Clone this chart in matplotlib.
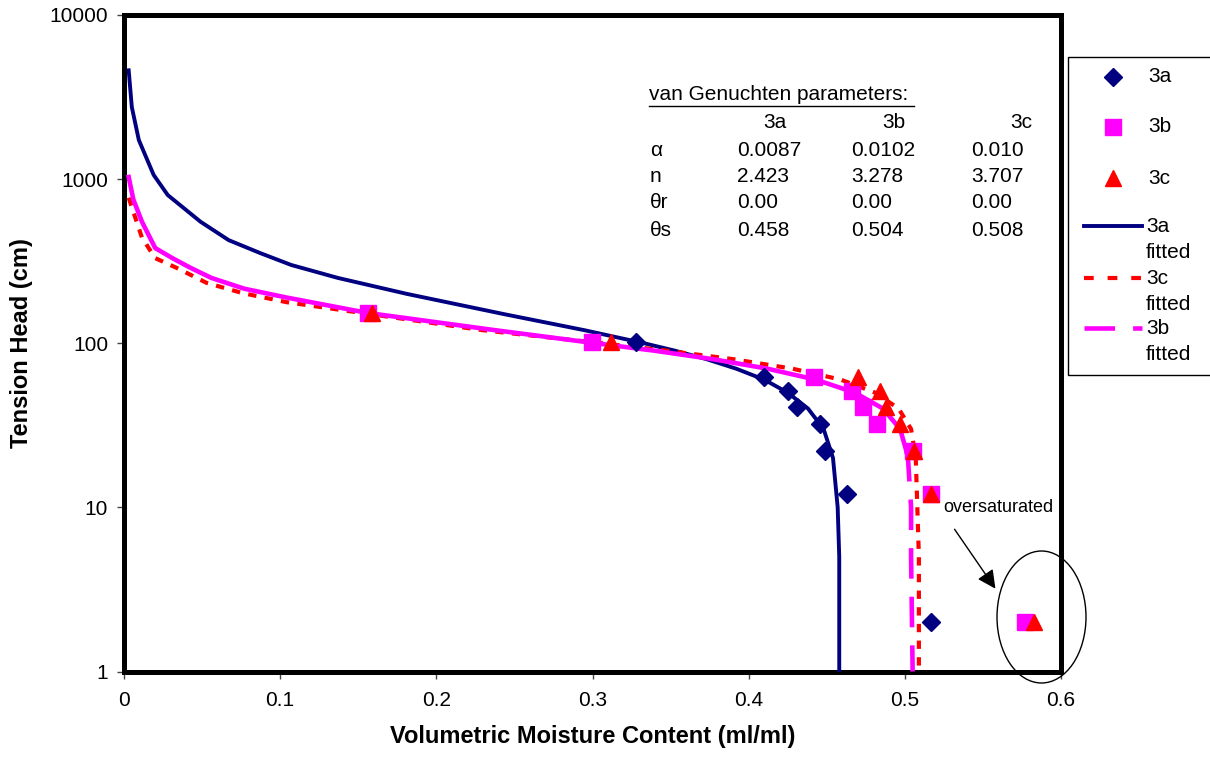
import matplotlib
matplotlib.use("Agg")
import matplotlib.pyplot as plt
from matplotlib.patches import Ellipse, Rectangle, FancyArrowPatch
from matplotlib.ticker import NullLocator

plt.rcParams["font.family"] = ["Liberation Sans", "DejaVu Sans"]
plt.rcParams["lines.scale_dashes"] = False

# measured points (tension head in cm, moisture in ml/ml)
h_3a = [102, 62, 51, 41, 32, 22, 12, 2]
theta_3a = [0.328, 0.410, 0.425, 0.431, 0.4456, 0.449, 0.463, 0.5166]
h_3bc = [153, 102, 62, 51, 41, 32, 22, 12, 2]
theta_3b = [0.156, 0.2996, 0.4417, 0.466, 0.473, 0.482, 0.505, 0.5166, 0.577]
theta_3c = [0.159, 0.312, 0.470, 0.484, 0.488, 0.497, 0.506, 0.517, 0.583]

# fitted curves
fit_a_h = [4600, 2750, 1730, 1060, 800, 550, 425, 355, 300, 250, 200, 150, 120,
           100, 90, 80, 70, 60, 50, 40, 30, 20, 10, 5, 1]
fit_a_theta = [0.003, 0.005, 0.0095, 0.019, 0.028, 0.049, 0.067, 0.087, 0.107,
               0.137, 0.181, 0.244, 0.295, 0.333, 0.353, 0.373, 0.392, 0.410,
               0.425, 0.438, 0.448, 0.454, 0.457, 0.458, 0.458]
fit_b_h = [1030, 750, 550, 380, 330, 290, 250, 215, 190, 153, 120, 100, 90, 80,
           70, 60, 50, 40, 30, 22, 20, 10, 5, 1]
fit_b_theta = [0.003, 0.006, 0.0115, 0.020, 0.031, 0.042, 0.056, 0.077, 0.104,
               0.156, 0.238, 0.302, 0.340, 0.377, 0.412, 0.443, 0.468, 0.486,
               0.497, 0.501, 0.502, 0.504, 0.504, 0.505]
fit_c_h = [770, 440, 330, 287, 233, 202, 178, 159, 120, 100, 90, 80, 70, 60, 50,
           40, 30, 20, 10, 5, 1]
fit_c_theta = [0.003, 0.0115, 0.020, 0.034, 0.053, 0.076, 0.104, 0.140, 0.230,
               0.306, 0.348, 0.390, 0.428, 0.459, 0.481, 0.496, 0.504, 0.507,
               0.508, 0.509, 0.509]

# van Genuchten parameter table
param_cols = ["3a", "3b", "3c"]
param_rows = ["\u03b1", "n", "\u03b8r", "\u03b8s"]
param_vals = [["0.0087", "0.0102", "0.010"],
              ["2.423", "3.278", "3.707"],
              ["0.00", "0.00", "0.00"],
              ["0.458", "0.504", "0.508"]]

x_ticks = [0, 0.1, 0.2, 0.3, 0.4, 0.5, 0.6]
x_labels = ["0", "0.1", "0.2", "0.3", "0.4", "0.5", "0.6"]
y_ticks = [1, 10, 100, 1000, 10000]
y_labels = ["1", "10", "100", "1000", "10000"]

NAVY = "#000080"
PINK = "#FF00FF"
RED = "#FF0000"

W, H = 1210, 758
fig = plt.figure(figsize=(W / 100, H / 100), dpi=100)
ax = fig.add_axes([124 / W, 1 - 671.5 / H, (1061 - 124) / W, (671.5 - 15) / H])

ax.plot(fit_a_theta, fit_a_h, color=NAVY, lw=2.8, zorder=3)
ax.plot(fit_c_theta, fit_c_h, color=RED, lw=3.0, dashes=(6, 6), zorder=3)
# excel drew the densely sampled upper part as a solid run, long dashes below
k = fit_b_h.index(22)
ax.plot(fit_b_theta[:k + 1], fit_b_h[:k + 1], color=PINK, lw=3.3, zorder=3)
ax.plot(fit_b_theta[k:], fit_b_h[k:], color=PINK, lw=3.3, dashes=(22, 13),
        dash_capstyle="butt", zorder=3)

ax.plot(theta_3a, h_3a, ls="none", marker="D", ms=9, color=NAVY, mec=NAVY, zorder=4)
ax.plot(theta_3b, h_3bc, ls="none", marker="s", ms=11, color=PINK, mec=PINK, zorder=4)
ax.plot(theta_3c, h_3bc, ls="none", marker="^", ms=12, color=RED, mec=RED, zorder=5)

ax.set_yscale("log")
ax.set_xlim(0, 0.6)
ax.set_ylim(1, 10000)
ax.set_xticks(x_ticks)
ax.set_xticklabels(x_labels)
ax.set_yticks(y_ticks)
ax.set_yticklabels(y_labels)
ax.yaxis.set_minor_locator(NullLocator())
ax.tick_params(direction="out", length=5, width=1, color="#444444", labelsize=15)
ax.tick_params(axis="x", pad=9)
ax.tick_params(axis="y", pad=6.5)
for s in ax.spines.values():
    s.set_linewidth(3.6)

# overlay in pixel coordinates for text, legend and annotation
ov = fig.add_axes([0, 0, 1, 1], zorder=5)
ov.set_xlim(0, W)
ov.set_ylim(H, 0)
ov.axis("off")
ov.patch.set_alpha(0)

ov.text(22, 343, "Tension Head (cm)", rotation=90, fontsize=17, fontweight="bold",
        ha="center", va="center")
ov.text(592.5, 737, "Volumetric Moisture Content (ml/ml)", fontsize=17,
        fontweight="bold", ha="center", va="center")

# parameter table
ov.text(649, 95, "van Genuchten parameters:", fontsize=15, va="center")
ov.plot([649, 914], [106, 106], color="black", lw=1)
col_right = [787, 905, 1032]
col_left = [737, 851, 971]
for c, name in enumerate(param_cols):
    ov.text(col_right[c], 123, name, fontsize=15, ha="right", va="center")
row_y = [151, 177, 203, 230]
for r, name in enumerate(param_rows):
    ov.text(650, row_y[r], name, fontsize=15, va="center")
    for c in range(3):
        ov.text(col_left[c], row_y[r], param_vals[r][c], fontsize=15, va="center")

# annotation
ov.text(943, 508, "oversaturated", fontsize=13, va="center")
ov.add_patch(FancyArrowPatch((953, 527), (997, 591), arrowstyle="-|>",
                             mutation_scale=28, lw=1, color="black"))
ov.add_patch(Ellipse((1041.5, 617), 89, 132, fill=False, lw=1, ec="black"))

# legend
ov.add_patch(Rectangle((1068, 57), 160, 318, fill=False, lw=1, ec="black"))
ov.plot(1113, 77, marker="D", ms=9, color=NAVY, ls="none")
ov.plot(1113, 127, marker="s", ms=11, color=PINK, ls="none")
ov.plot(1113, 178, marker="^", ms=12, color=RED, ls="none")
ov.text(1148, 77, "3a", fontsize=15, va="center")
ov.text(1148, 127, "3b", fontsize=15, va="center")
ov.text(1148, 178, "3c", fontsize=15, va="center")
ov.plot([1084, 1142], [226, 226], color=NAVY, lw=2.8)
ov.plot([1084, 1142], [278, 278], color=RED, lw=3.0, dashes=(7, 10))
ov.plot([1084, 1142], [328, 328], color=PINK, lw=3.3, dashes=(22, 13))
for y, name in [(226, "3a"), (278, "3c"), (328, "3b")]:
    ov.text(1146, y, name, fontsize=15, va="center")
    ov.text(1146, y + 27, "fitted", fontsize=15, va="center")

fig.savefig("out.png", dpi=100)
